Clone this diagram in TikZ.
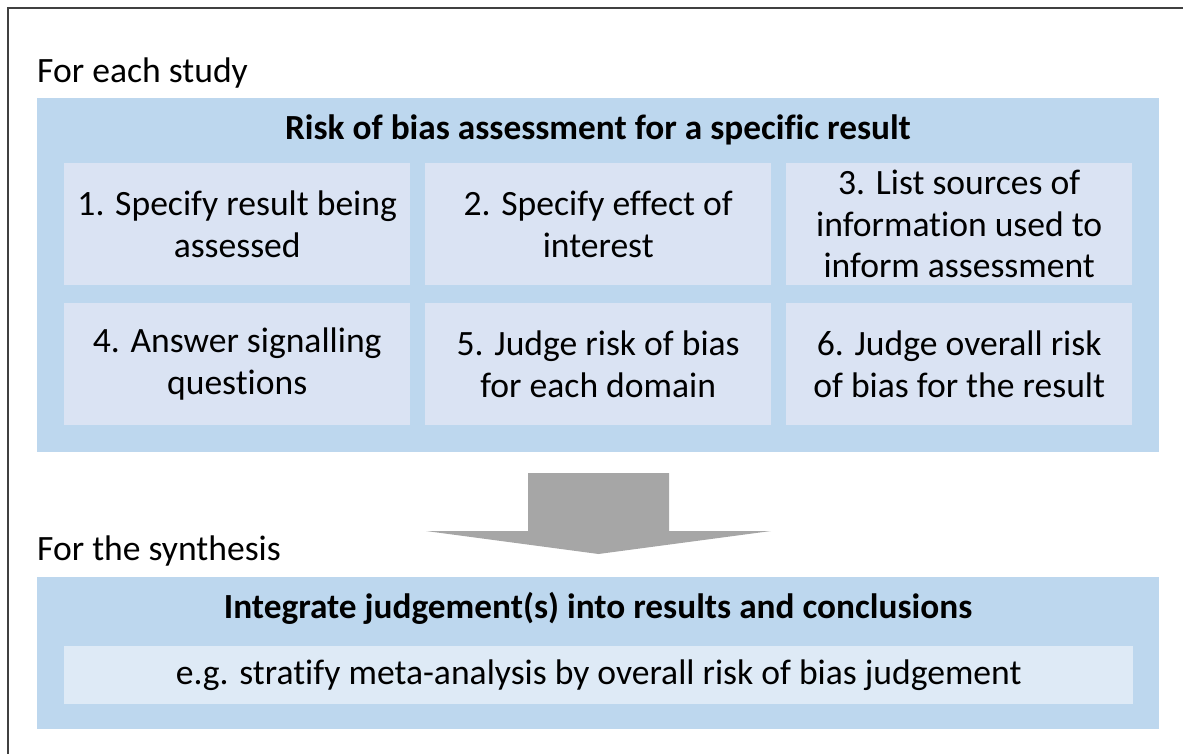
\documentclass[tikz,border=0pt]{standalone}
\usepackage{fontspec}
\setmainfont{Carlito}[Ligatures={NoCommon}]
\definecolor{outerblue}{HTML}{BDD7EE}
\definecolor{innerblue}{HTML}{DAE3F3}
\definecolor{lightblue}{HTML}{DEEAF6}
\definecolor{arrowgray}{HTML}{A6A6A6}
\definecolor{framegray}{HTML}{404040}
\begin{document}
\begin{tikzpicture}[x=1pt,y=-1pt,
  txt/.style={font=\fontsize{35.6}{41.5}\selectfont},
  outerbox/.style={fill=outerblue,draw=none,inner sep=0pt,anchor=north west,minimum width=1122pt},
  stepbox/.style={fill=innerblue,draw=none,inner sep=0pt,anchor=north west,minimum width=346pt,minimum height=122pt,align=center,txt},
  notebox/.style={fill=lightblue,draw=none,inner sep=0pt,anchor=north west,minimum width=1069pt,minimum height=58pt,align=center,txt},
  titletxt/.style={font=\fontsize{35.3}{41.5}\selectfont\bfseries,anchor=center},
  headtxt/.style={txt,anchor=base west,inner sep=0pt}]
\useasboundingbox (0,0) rectangle (1183,753);
\draw[framegray,line width=1.5pt] (8,760) -- (8,8) -- (1190,8);
\node[headtxt] (h1) at (37,82) {For each study};
\node[outerbox,minimum height=354pt] (top) at (37,98) {};
\node[titletxt] (t1) at (598,130) {Risk of bias assessment for a specific result};
\node[stepbox] (s1) at (64,163) {1. Specify result being\\assessed};
\node[stepbox] (s2) at (425,163) {2. Specify effect of\\interest};
\node[stepbox] (s3) at (786,163) {3. List sources of\\information used to\\inform assessment};
\node[stepbox] (s4) at (64,303) {4. Answer signalling\\questions};
\node[stepbox] (s5) at (425,303) {5. Judge risk of bias\\for each domain};
\node[stepbox] (s6) at (786,303) {6. Judge overall risk\\of bias for the result};
\fill[arrowgray] (528,473) -- (669,473) -- (669,531) -- (771,531) -- (598.5,554) -- (426,531) -- (528,531) -- cycle;
\node[headtxt] (h2) at (37,560) {For the synthesis};
\node[outerbox,minimum height=152pt] (bot) at (37,577) {};
\node[titletxt] (t2) at (598,608) {Integrate judgement(s) into results and conclusions};
\node[notebox] (n1) at (64,646) {e.g. stratify meta-analysis by overall risk of bias judgement};
\end{tikzpicture}
\end{document}
